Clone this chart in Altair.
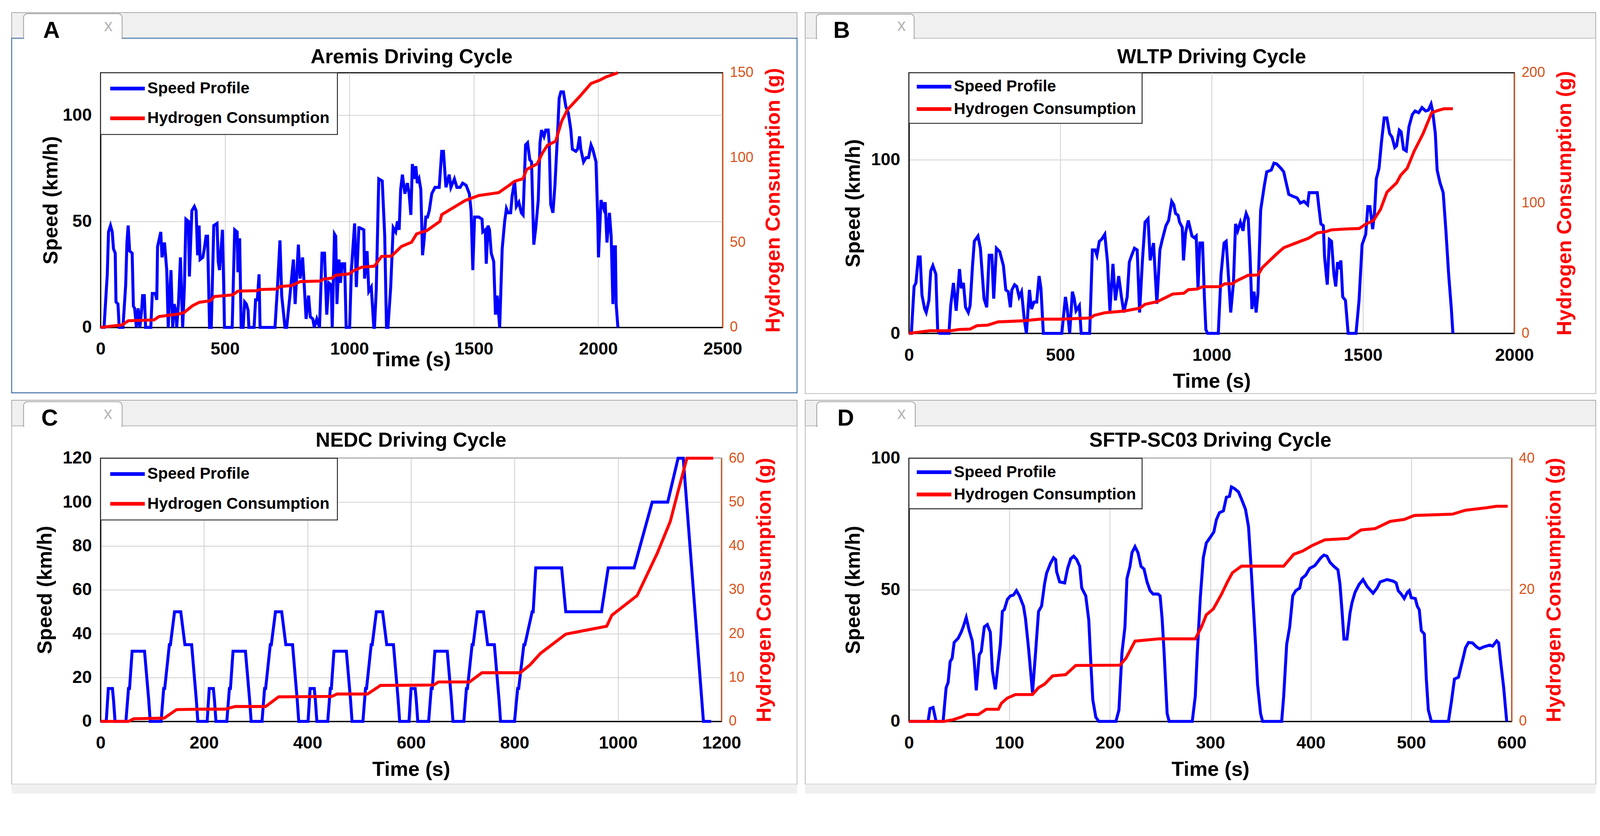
import altair as alt
import pandas as pd

FONT = "Liberation Sans"
SERIES = ["Speed Profile", "Hydrogen Consumption"]
COLORS = ["#0000ff", "#ff0000"]
ORANGE = "#D95319"

# ---------------- Panel A : Aremis ----------------
A_T = [0, 14, 27, 32, 40, 47, 52, 59, 62, 70, 75, 90, 101, 106, 111, 117, 127, 132, 137, 144,
       151, 158, 165, 169, 176, 181, 202, 208, 220, 226, 229, 242, 247, 257, 266, 272, 276, 283,
       290, 296, 303, 306, 313, 321, 330, 337, 343, 353, 357, 367, 377, 384, 390, 396, 400, 411,
       417, 424, 430, 438, 445, 455, 468, 473, 478, 490, 495, 498, 529, 539, 549, 552, 559, 565,
       573, 579, 586, 593, 596, 617, 623, 630, 637, 641, 701, 711, 721, 728, 735, 741, 748, 761,
       775, 782, 795, 802, 812, 819, 826, 836, 843, 853, 859, 869, 880, 890, 900, 909, 917, 927,
       931, 940, 945, 950, 958, 964, 971, 981, 987, 1001, 1008, 1021, 1028, 1038, 1041, 1058,
       1061, 1071, 1078, 1088, 1098, 1101, 1108, 1118, 1132, 1142, 1149, 1155, 1166, 1176, 1186,
       1193, 1200, 1206, 1213, 1223, 1233, 1240, 1247, 1253, 1260, 1267, 1273, 1280, 1287, 1294,
       1300, 1307, 1314, 1321, 1331, 1344, 1361, 1371, 1378, 1388, 1401, 1408, 1422, 1432, 1445,
       1455, 1469, 1482, 1489, 1496, 1503, 1520, 1533, 1536, 1546, 1550, 1557, 1563, 1570, 1580,
       1587, 1594, 1604, 1614, 1624, 1631, 1638, 1648, 1654, 1664, 1671, 1681, 1691, 1698, 1708,
       1716, 1725, 1732, 1741, 1749, 1759, 1766, 1772, 1782, 1789, 1799, 1803, 1809, 1818, 1826,
       1836, 1843, 1850, 1860, 1870, 1880, 1890, 1896, 1910, 1917, 1925, 1930, 1941, 1951, 1961,
       1971, 1978, 1991, 1998, 2001, 2011, 2022, 2028, 2035, 2045, 2052, 2059, 2062, 2069, 2072,
       2079]
A_SPEED = [0, 0, 25, 45, 48, 45, 37, 35, 12, 11, 0, 0, 20, 40, 48, 36, 35, 10, 9, 0,
           9, 0, 8, 15, 15, 0, 0, 16, 16, 13, 38, 45, 33, 40, 27, 0, 11, 27,
           0, 11, 7, 0, 11, 33, 0, 19, 51, 50, 24, 55, 57, 55, 34, 48, 32, 33,
           37, 43, 43, 0, 0, 48, 49, 31, 27, 46, 19, 0, 0, 46, 45, 26, 42, 0,
           0, 12, 11, 8, 0, 0, 13, 13, 25, 0, 0, 19, 41, 15, 7, 0, 0, 15,
           32, 11, 39, 23, 33, 19, 4, 15, 5, 4, 0, 4, 0, 35, 35, 6, 21, 20,
           0, 44, 43, 11, 32, 21, 30, 30, 0, 0, 27, 49, 19, 47, 47, 46,
           23, 36, 17, 19, 0, 0, 18, 70, 69, 43, 0, 0, 19, 47, 45,
           50, 46, 65, 72, 63, 68, 63, 53, 77, 70, 76, 68, 70, 65, 34,
           41, 52, 52, 55, 63, 66, 66, 83, 83, 66, 72, 66, 70, 66, 66,
           68, 67, 63, 55, 27, 52, 52, 51, 45, 46, 30, 48, 46, 35, 31,
           6, 15, 0, 37, 50, 56, 54, 54, 62, 69, 57, 59, 54, 53, 86,
           87, 79, 78, 39, 47, 60, 87, 93, 90, 93, 93, 87, 58, 54, 67,
           90, 108, 111, 111, 104, 101, 93, 84, 83, 84, 90, 84, 78, 80, 80,
           86, 84, 78, 51, 33, 60, 56, 59, 40, 54, 43, 11, 38, 38, 11,
           0]
A_H2_T = [0, 87, 111, 215, 235, 316, 337, 370, 397, 441, 458, 532, 552, 627, 640, 708, 721,
          768, 802, 883, 896, 930, 944, 998, 1018, 1050, 1101, 1129, 1169, 1209, 1250, 1270,
          1311, 1364, 1371, 1466, 1520, 1600, 1641, 1664, 1698, 1712, 1755, 1776, 1796, 1829,
          1853, 1877, 1924, 1971, 2005, 2032, 2079]
A_H2 = [0, 1.5, 3.9, 4.4, 6.4, 7.9, 8.9, 12.8, 14.8, 15.7, 18.2, 19.2, 21.4, 21.6, 22.3, 22.6,
        24.1, 24.6, 27, 27.3, 28.5, 29, 30.7, 31.5, 33.5, 35.5, 36.1, 41.8, 42, 47.7, 50.2, 55.1,
        57, 62.5, 66.4, 74.8, 77.7, 79.4, 83.6, 86.1, 87.6, 93, 96.4, 102.8, 107.3, 109.7,
        121.5, 128.4, 135.8, 143.7, 145.6, 147.6, 150]

# ---------------- Panel B : WLTP ----------------
B_T = [0, 8, 17, 23, 31, 37, 43, 52, 57, 66, 72, 79, 89, 95, 101, 132, 138, 147, 156, 167,
       173, 180, 187, 196, 202, 210, 216, 228, 236, 248, 257, 265, 274, 280, 289, 300, 312, 320,
       328, 335, 340, 349, 356, 364, 372, 381, 388, 398, 405, 413, 422, 430, 436, 444, 505, 517,
       523, 531, 540, 546, 552, 563, 569, 597, 606, 615, 621, 629, 636, 647, 656, 664, 674, 682,
       693, 702, 710, 721, 728, 736, 745, 754, 762, 771, 780, 790, 797, 808, 819, 829, 837, 849,
       858, 868, 875, 881, 889, 894, 903, 907, 914, 923, 935, 943, 949, 955, 961, 970, 976, 981,
       987, 1022, 1031, 1041, 1048, 1057, 1063, 1072, 1079, 1086, 1095, 1104, 1107, 1114, 1121,
       1127, 1133, 1140, 1147, 1153, 1162, 1174, 1182, 1197, 1206, 1215, 1229, 1238, 1255, 1267,
       1282, 1293, 1305, 1317, 1322, 1337, 1349, 1354, 1361, 1369, 1373, 1382, 1389, 1396, 1404,
       1410, 1416, 1422, 1427, 1433, 1442, 1451, 1477, 1487, 1497, 1509, 1516, 1523, 1532, 1538,
       1544, 1553, 1561, 1570, 1579, 1588, 1596, 1605, 1611, 1620, 1626, 1634, 1643, 1652, 1663,
       1672, 1684, 1695, 1707, 1716, 1725, 1730, 1739, 1745, 1754, 1765, 1774, 1783, 1792, 1797]
B_SPEED = [0, 0, 27, 29, 44, 44, 22, 14, 12, 19, 36, 39, 34, 1.5, 0, 0, 16, 29, 13, 37,
           26, 29, 15, 12, 16, 39, 53, 56, 49, 20, 15, 45, 45, 20, 49, 47, 39, 25,
           24, 15, 25, 28, 27, 21, 24, 8, 0, 25, 14, 18, 18, 33, 26, 0, 0, 21,
           14, 0, 24, 20, 13, 16, 0, 0, 48, 48, 45, 53, 54, 57, 41, 13, 40, 19,
           33, 21, 12, 21, 41, 45, 49, 48, 12, 41, 64, 66, 42, 52, 17, 48, 54, 62,
           65, 76, 74, 69, 68, 64, 61, 42, 58, 65, 56, 55, 56, 26, 52, 52, 21, 2,
           0, 0, 34, 52, 53, 29, 12, 29, 63, 59, 64, 59, 64, 69, 66,
           44, 14, 24, 12, 23, 71, 85, 93, 94, 98, 97.5, 95, 93, 80, 79,
           78, 75, 76, 74, 81, 81, 81, 73, 63, 62, 44, 28, 54, 53, 34,
           27, 41, 37, 42, 21, 19, 0, 0, 19, 51, 57, 73, 73, 60, 69,
           89, 95, 110, 124, 124, 115, 113, 107, 108, 117, 116, 106, 105, 119, 126,
           128, 127, 130, 128, 128.5, 132, 128, 115, 94, 87, 81, 59, 34, 14, 0]
B_H2_T = [0, 69, 138, 167, 202, 225, 260, 294, 375, 433, 502, 600, 612, 647, 710, 762, 780,
          820, 872, 908, 923, 952, 970, 1028, 1043, 1069, 1080, 1121, 1153, 1168, 1215, 1238,
          1296, 1319, 1349, 1378, 1395, 1442, 1488, 1506, 1535, 1558, 1579, 1611, 1625, 1646,
          1669, 1698, 1727, 1751, 1768, 1797]
B_H2 = [0, 2, 2, 3, 3.3, 5.9, 6.3, 8.8, 9.6, 10.9, 10.9, 11.8, 13.8, 15.8, 17.1, 19.3, 22.3,
        24.3, 30.2, 30.8, 33.5, 34, 35.8, 35.8, 38, 38, 40, 44.6, 44.8, 50.6, 61, 65.7,
        70.9, 72.9, 77.1, 78.1, 79.4, 80.1, 80.5, 83.4, 86.7, 95.2, 108.3, 115.5, 121.5, 126.7,
        139.8, 153, 169.4, 171.3, 172.4, 172.4]

# ---------------- Panel C : NEDC ----------------
C_T = [0, 11, 15, 23, 25, 28, 49, 54, 56, 61, 85, 93, 96, 117, 122, 124, 133, 135, 143, 155,
       163, 176, 185, 188, 195,
       206, 210, 218, 220, 223, 244, 249, 251, 256, 280, 288, 291, 312, 317, 319, 328, 330, 338,
       350, 358, 371, 380, 383, 390,
       401, 405, 413, 415, 418, 439, 444, 446, 451, 475, 483, 486, 507, 512, 514, 523, 525, 533,
       545, 553, 566, 575, 578, 585,
       596, 600, 608, 610, 613, 634, 639, 641, 646, 670, 678, 681, 702, 707, 709, 718, 720, 728,
       740, 748, 761, 770, 773, 780,
       800, 806, 808, 818, 820, 834, 836, 841, 891, 899, 968, 981, 1031, 1066, 1096, 1116, 1126,
       1165, 1180]
C_SPEED = [0, 0, 15, 15, 10, 0, 0, 15, 15, 32, 32, 10, 0, 0, 15, 15, 35, 35, 50, 50,
           35, 35, 10, 0, 0,
           0, 15, 15, 10, 0, 0, 15, 15, 32, 32, 10, 0, 0, 15, 15, 35, 35, 50,
           50, 35, 35, 10, 0, 0,
           0, 15, 15, 10, 0, 0, 15, 15, 32, 32, 10, 0, 0, 15, 15, 35, 35, 50,
           50, 35, 35, 10, 0, 0,
           0, 15, 15, 10, 0, 0, 15, 15, 32, 32, 10, 0, 0, 15, 15, 35, 35, 50,
           50, 35, 35, 10, 0, 0,
           0, 15, 15, 35, 35, 50, 50, 70, 70, 50, 50, 70, 70, 100, 100, 120, 120,
           0, 0]
C_H2_T = [0, 54, 64, 123, 147, 197, 241, 260, 319, 344, 447, 457, 516, 541, 644, 653, 713, 737,
          811, 830, 850, 899, 978, 988, 1037, 1076, 1101, 1115, 1133, 1184]
C_H2 = [0, 0, 0.6, 0.75, 2.7, 2.8, 2.8, 3.4, 3.4, 5.6, 5.7, 6.25, 6.25, 8.2, 8.3, 9, 9, 11.1,
        11.1, 12.9, 15.5, 19.9, 21.7, 24.2, 28.7, 38.4, 45.6, 52, 60, 60]

# ---------------- Panel D : SFTP-SC03 ----------------
D_T = [0, 19, 21, 24, 27, 34, 37, 39, 41, 43, 45, 49, 52, 54, 57, 60, 63, 65, 67, 70, 72, 75,
       78, 81, 83, 86, 89, 91, 93, 95, 98, 101, 104, 107, 110, 114, 116, 119, 123, 126, 129, 132,
       135, 137, 141, 144, 146, 147, 150, 155, 158, 161, 164, 167, 170, 172, 176, 179, 181, 183,
       186, 189, 206, 209, 212, 215, 217, 220, 222, 225, 228, 231, 234, 237, 240, 243, 248, 250,
       252, 254, 257, 259, 282, 285, 287, 290, 293, 296, 300, 303.5, 306, 309, 313, 316, 319,
       321, 324, 328, 331, 335, 338, 340, 342, 345, 347, 350, 352, 371, 373, 376, 379, 382, 385,
       389, 391, 395, 399, 404, 410, 413, 416, 419, 423, 427, 429, 431, 433, 436, 439, 441, 444,
       448, 452, 456, 462, 466, 469, 476, 482, 485, 487, 490, 493, 496, 498, 500, 504, 506, 508,
       510, 513, 515, 517, 520, 537, 540, 543, 547, 549, 552, 554, 557, 561, 565, 568, 572, 578,
       581, 585, 587, 589, 592, 595]
D_SPEED = [0, 0, 4.9, 5.3, 0, 0, 12.8, 14.8, 22.7, 24, 30, 31.6, 33.9, 35.9, 39.5, 34.5, 30.6,
           22.7, 11.8, 25.3, 26.6, 35.9, 36.8, 33.9, 19.4, 12.2, 22.7, 29.3, 41.8, 42.5, 46.4,
           47.7, 48, 49.7, 47.7, 43.8, 39.1, 28, 10.9, 26, 41.8, 43.8, 52.3, 56.3, 60.2, 62.2,
           61.5, 56.9, 53, 52.6, 58.2, 61.8, 62.8, 61.5, 58.9, 50.7, 47.7, 38.5, 22.7, 8.2, 1.6,
           0, 0, 4.3, 26, 35.9, 54.3, 58.9, 64.1, 66.4, 64.1, 58.9, 57.9, 53, 49.7, 48.4, 48.4,
           47.7, 39.1, 26, 3, 0, 0, 9.5, 26, 47, 62.2, 67.8, 70, 72, 76.6, 79.3, 80, 85.2, 85.5,
           89.1, 88.5, 87.2, 84.5, 80.6, 74, 62.2, 49, 29.3, 14.1, 3, 0, 0, 9.5, 29.3, 35.9, 47.7,
           49.7, 50.7, 54.3, 55.6, 58.2, 59.2, 62.2, 63.2, 62.8, 60.5, 58.9, 57.6, 52.3, 42.4,
           31.3, 31.3, 41.1, 45.1, 49, 52, 53.9, 51.3, 48.7, 50.7, 53, 53.9, 53.3, 52.6, 49.7,
           48.4, 46.7, 49, 49.7, 47, 46.7, 43.8, 42.4, 34.5, 33.2, 16.1, 4.3, 0, 0, 7.6, 16.1,
           16.8, 20, 24.7, 28, 30, 29.8, 28.3, 27.6, 28.3, 29, 28.6, 30.6, 29.8, 22.7, 12.8, 0]
D_H2_T = [0, 35, 44, 52, 58, 69, 77, 89, 92, 98, 106, 123, 129, 135, 143, 156, 166, 210, 216,
          225, 249, 285, 291, 296, 303, 311, 317, 322, 331, 373, 383, 392, 401, 414, 437, 450,
          464, 479, 493, 503, 541, 554, 576, 585, 596]
D_H2 = [0, 0, 0.26, 0.66, 1.05, 1.05, 1.84, 1.84, 2.76, 3.55, 4.08, 4.08, 5.13, 5.66, 6.92,
        7.1, 8.5, 8.55, 9.6, 12.2, 12.55, 12.55, 14.3, 16.2, 17.1, 19.3, 21.2, 22.6, 23.6,
        23.6, 25.4, 25.9, 26.7, 27.6, 27.8, 29.1, 29.3, 30.4, 30.7, 31.3, 31.5, 32.1, 32.5,
        32.7, 32.7]

DUMMY = pd.DataFrame({"k": [0]})


def vrect(x1, x2, y1, y2, **kw):
    return alt.Chart(DUMMY).mark_rect(**kw).encode(
        x=alt.value(x1), x2=alt.value(x2), y=alt.value(y1), y2=alt.value(y2))


def vtext(x, y, txt, **kw):
    return alt.Chart(DUMMY).mark_text(text=txt, font=FONT, **kw).encode(
        x=alt.value(x), y=alt.value(y))


def decor(f):
    lay = [
        vrect(f["fx1"], f["fx2"], f["fy1"], f["sb"], fill="#f0f0f0", stroke="#a8a8a8", strokeWidth=2),
        vrect(f["fx1"], f["fx2"], f["sb"], f["fy2"], fill="white", fillOpacity=0,
              stroke=f["border"], strokeWidth=2.5),
    ]
    if f.get("bot"):
        lay.append(vrect(f["fx1"], f["fx2"], f["fy2"], f["bot"], fill="#f0f0f0", strokeWidth=0))
    lay += [
        vrect(f["tx1"], f["tx2"], f["ty1"], f["sb"] + 1, fill="white", stroke="#9a9a9a",
              strokeWidth=2, cornerRadiusTopLeft=10, cornerRadiusTopRight=10),
        vrect(f["tx1"] + 2, f["tx2"] - 2, f["sb"] - 3, f["sb"] + 3, fill="white", strokeWidth=0),
        vtext(f["lx"], f["sb"] - 1, f["letter"], fontSize=62, fontWeight="bold", color="black",
              align="center", baseline="alphabetic"),
        vtext(f["cx"], f["cy"], "x", fontSize=46, color="#b4b4b4", align="center", baseline="middle"),
    ]
    return lay


def panel(title, t1, v1, t2, v2, xmax, xticks, ymax, yticks, y2max, y2ticks, w, h,
          frame, title_off, x_title_pad, y_title_pad, leg_pad, leg_row):
    d1 = pd.DataFrame({"time": t1, "value": v1, "series": SERIES[0]})
    d2 = pd.DataFrame({"time": t2, "value": v2, "series": SERIES[1]})
    legend = alt.Legend(title=None, orient="top-left", offset=0, padding=leg_pad,
                        rowPadding=leg_row, symbolType="stroke", symbolSize=8649,
                        symbolStrokeWidth=10, clipHeight=43, labelFontSize=43, labelFont=FONT,
                        labelFontWeight="bold", labelColor="black", labelOffset=2,
                        labelLimit=1000, strokeColor="#262626", fillColor="white")
    color = alt.Color("series:N", scale=alt.Scale(domain=SERIES, range=COLORS), legend=legend)
    xaxis = alt.Axis(values=xticks, format="d", title="Time (s)", grid=True, gridColor="#d6d6d6",
                     gridWidth=2.5, domainColor="black", domainWidth=3, ticks=False,
                     labelFont=FONT, labelFontSize=47, labelFontWeight="bold", labelColor="black",
                     labelPadding=36, labelFlush=False, labelOverlap=False,
                     titleFont=FONT, titleFontSize=55, titleFontWeight="bold", titleColor="black",
                     titlePadding=x_title_pad)
    x = alt.X("time:Q", scale=alt.Scale(domain=[0, xmax], nice=False), axis=xaxis)
    yaxis = alt.Axis(values=yticks, format="d", title="Speed (km/h)", grid=True,
                     gridColor="#d6d6d6", gridWidth=2.5, domainColor="black", domainWidth=3,
                     ticks=False, labelFont=FONT, labelFontSize=47, labelFontWeight="bold",
                     labelColor="black", labelPadding=24, labelOverlap=False,
                     titleFont=FONT, titleFontSize=55, titleFontWeight="bold", titleColor="black",
                     titlePadding=y_title_pad)
    y2axis = alt.Axis(orient="right", values=y2ticks, format="d",
                      title="Hydrogen Consumption (g)", grid=False, domainColor=ORANGE,
                      domainWidth=3, ticks=False, labelFont=FONT, labelFontSize=38,
                      labelFontWeight="normal", labelColor=ORANGE, labelPadding=19,
                      labelOverlap=False, titleFont=FONT, titleFontSize=55,
                      titleFontWeight="bold", titleColor="#ff0000", titleAngle=270,
                      titleBaseline="top", titlePadding=27)
    speed = alt.Chart(d1).mark_line(strokeWidth=8).encode(
        x=x, y=alt.Y("value:Q", scale=alt.Scale(domain=[0, ymax], nice=False), axis=yaxis),
        color=color)
    h2 = alt.Chart(d2).mark_line(strokeWidth=8).encode(
        x=x, y=alt.Y("value:Q", scale=alt.Scale(domain=[0, y2max], nice=False), axis=y2axis),
        color=color)
    return alt.layer(*decor(frame), speed, h2).resolve_scale(y="independent").properties(
        width=w, height=h,
        title=alt.TitleParams(title, font=FONT, fontSize=54, fontWeight="bold", color="black",
                              anchor="middle", frame="group", offset=title_off))


pA = panel("Aremis Driving Cycle", A_T, A_SPEED, A_H2_T, A_H2, 2500, [0, 500, 1000, 1500, 2000, 2500],
           120, [0, 50, 100], 150, [0, 50, 100, 150], 1673, 685,
           dict(fx1=-239, fx2=1873, fy1=-162, fy2=861, sb=-93, tx1=-207, tx2=58, ty1=-159,
                lx=-132, letter="A", cx=21, cy=-126, border="#3c6da3"),
           -148, -21, 2, 21, 36)
pB = panel("WLTP Driving Cycle", B_T, B_SPEED, B_H2_T, B_H2, 2000, [0, 500, 1000, 1500, 2000],
           150, [0, 100], 200, [0, 100, 200], 1628, 701,
           dict(fx1=-279, fx2=1847, fy1=-162, fy2=863, sb=-93, tx1=-249, tx2=14, ty1=-158,
                lx=-181, letter="B", cx=-20, cy=-127, border="#c4c4c4"),
           -148, 21, 18, 16, 16)
pC = panel("NEDC Driving Cycle", C_T, C_SPEED, C_H2_T, C_H2, 1200, [0, 200, 400, 600, 800, 1000, 1200],
           120, [0, 20, 40, 60, 80, 100, 120], 60, [0, 10, 20, 30, 40, 50, 60], 1670, 708,
           dict(fx1=-239, fx2=1873, fy1=-156, fy2=877, bot=902, sb=-87, tx1=-207, tx2=58,
                ty1=-152, lx=-137, letter="C", cx=20, cy=-120, border="#c4c4c4"),
           -137, 21, 18, 21, 36)
pD = panel("SFTP-SC03 Driving Cycle", D_T, D_SPEED, D_H2_T, D_H2, 600, [0, 100, 200, 300, 400, 500, 600],
           100, [0, 50, 100], 40, [0, 20, 40], 1621, 708,
           dict(fx1=-279, fx2=1847, fy1=-156, fy2=877, bot=902, sb=-87, tx1=-248, tx2=17,
                ty1=-152, lx=-170, letter="D", cx=-20, cy=-120, border="#c4c4c4"),
           -137, 21, 18, 16, 16)

row1 = alt.hconcat(pA, pB, spacing=16).resolve_scale(color="independent").resolve_legend(color="independent")
row2 = alt.hconcat(pC, pD, spacing=16).resolve_scale(color="independent").resolve_legend(color="independent")

chart = alt.vconcat(row1, row2, spacing=12).resolve_scale(color="independent").resolve_legend(
    color="independent").properties(
    padding={"left": 20, "top": -30, "right": 0, "bottom": 0}, background="white"
).configure_view(stroke="black", strokeWidth=3).configure_legend(strokeWidth=2.5)

chart.save("out.html", embed_options={"renderer": "svg", "actions": False})
